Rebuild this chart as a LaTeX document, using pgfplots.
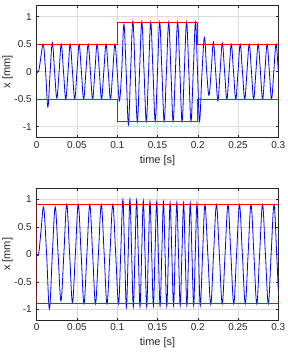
\documentclass[border=0pt]{standalone}
\usepackage{fontspec}
\setmainfont{Liberation Sans}
\usepackage{pgfplots}
\pgfplotsset{compat=1.18}
\definecolor{axgray}{RGB}{38,38,38}
\definecolor{gridgray}{RGB}{222,222,222}
\pgfplotsset{mystyle/.style={
  width=241.6pt, height=132pt, scale only axis,
  xmin=0, xmax=0.3, ymin=-1.2, ymax=1.2,
  xtick={0,0.05,0.1,0.15,0.2,0.25,0.3},
  ytick={-1,-0.5,0,0.5,1},
  grid=major, major grid style={gridgray, line width=0.5pt},
  axis line style={axgray, line width=0.5pt},
  tick style={axgray, line width=0.5pt}, tick align=inside, major tick length=2.5pt,
  ticklabel style={font=\fontsize{10}{12}\selectfont, text=axgray},
  label style={font=\fontsize{11}{13}\selectfont, text=axgray},
  xlabel={time [s]}, ylabel={x [mm]},
  ylabel shift=-5pt,
  yticklabel style={xshift=-1.5pt},
  /pgf/number format/assume math mode=true,
  scaled x ticks=false, scaled y ticks=false,
  xticklabel style={/pgf/number format/fixed},
  yticklabel style={/pgf/number format/fixed},
}}
\begin{document}
\begin{tikzpicture}
\useasboundingbox (0,0) rectangle (288pt,354pt);
\begin{axis}[mystyle, at={(36.7pt,216.3pt)}, anchor=south west]
\addplot[color=blue, line width=0.8pt, smooth, tension=0.6] coordinates {
(0,0) (0.0025,0.01) (0.0055,0.3) (0.0083,0.50)
(0.0111,0) (0.0139,-0.64) (0.0167,0) (0.0194,0.53)
(0.0222,0) (0.0250,-0.48) (0.0278,0) (0.0305,0.50)
(0.0333,0) (0.0361,-0.50) (0.0389,0) (0.0416,0.50)
(0.0444,0) (0.0472,-0.50) (0.0500,0) (0.0527,0.50)
(0.0555,0) (0.0583,-0.50) (0.0611,0) (0.0639,0.50)
(0.0667,0) (0.0694,-0.50) (0.0722,0) (0.0750,0.50)
(0.0778,0) (0.0805,-0.50) (0.0833,0) (0.0861,0.50)
(0.0889,0) (0.0916,-0.50) (0.0944,0) (0.0972,0.50)
(0.1000,0) (0.1027,-0.53) (0.1055,0) (0.1083,0.86)
(0.1111,0) (0.1139,-0.96) (0.1166,0) (0.1194,0.92)
(0.1222,0) (0.1250,-0.91) (0.1277,0) (0.1305,0.91)
(0.1333,0) (0.1361,-0.90) (0.1389,0) (0.1416,0.90)
(0.1444,0) (0.1472,-0.90) (0.1500,0) (0.1527,0.90)
(0.1555,0) (0.1583,-0.90) (0.1611,0) (0.1639,0.90)
(0.1667,0) (0.1694,-0.90) (0.1722,0) (0.1750,0.90)
(0.1778,0) (0.1805,-0.90) (0.1833,0) (0.1861,0.90)
(0.1889,0) (0.1916,-0.90) (0.1944,0) (0.1972,0.90)
(0.1997,0) (0.2022,-0.90) (0.2053,0) (0.2083,0.62)
(0.2111,0) (0.2139,-0.43) (0.2166,0) (0.2194,0.54)
(0.2222,0) (0.2250,-0.53) (0.2277,0) (0.2305,0.52)
(0.2333,0) (0.2361,-0.50) (0.2389,0) (0.2416,0.50)
(0.2444,0) (0.2472,-0.50) (0.2500,0) (0.2527,0.50)
(0.2555,0) (0.2583,-0.50) (0.2611,0) (0.2639,0.50)
(0.2667,0) (0.2694,-0.50) (0.2722,0) (0.2750,0.50)
(0.2778,0) (0.2805,-0.50) (0.2833,0) (0.2861,0.50)
(0.2889,0) (0.2916,-0.50) (0.2944,0) (0.2972,0.50)
(0.3000,0)
};
\addplot[draw=red, line width=1pt] coordinates {(0,0.5) (0.1,0.5) (0.1,0.9) (0.2,0.9) (0.2,0.5) (0.3,0.5)};
\addplot[draw=red, line width=1pt] coordinates {(0,-0.5) (0.1,-0.5) (0.1,-0.9) (0.2,-0.9) (0.2,-0.5) (0.3,-0.5)};
\end{axis}
\begin{axis}[mystyle, at={(36.7pt,33.7pt)}, anchor=south west]
\addplot[color=blue, line width=0.8pt, smooth, tension=0.6] coordinates {
(0,0) (0.0025,0.01) (0.0055,0.45) (0.0087,0.85)
(0.0123,0) (0.0158,-0.99) (0.0194,0) (0.0230,0.86)
(0.0266,0) (0.0301,-0.85) (0.0337,0) (0.0373,0.91)
(0.0409,0) (0.0444,-0.88) (0.0480,0) (0.0516,0.90)
(0.0552,0) (0.0587,-0.90) (0.0623,0) (0.0659,0.90)
(0.0695,0) (0.0730,-0.90) (0.0766,0) (0.0802,0.90)
(0.0838,0) (0.0873,-0.90) (0.0909,0) (0.0945,0.90)
(0.0981,0) (0.1016,-0.90) (0.1043,0) (0.1070,0.99)
(0.1092,0) (0.1114,-0.96) (0.1136,0) (0.1158,1.00)
(0.1179,0) (0.1200,-0.95) (0.1220,0) (0.1241,0.98)
(0.1262,0) (0.1283,-0.95) (0.1303,0) (0.1324,0.97)
(0.1345,0) (0.1366,-0.95) (0.1386,0) (0.1407,0.96)
(0.1428,0) (0.1449,-0.94) (0.1469,0) (0.1490,0.95)
(0.1511,0) (0.1532,-0.94) (0.1553,0) (0.1574,0.95)
(0.1594,0) (0.1615,-0.94) (0.1636,0) (0.1657,0.94)
(0.1678,0) (0.1699,-0.93) (0.1719,0) (0.1740,0.94)
(0.1761,0) (0.1782,-0.93) (0.1803,0) (0.1824,0.93)
(0.1844,0) (0.1865,-0.93) (0.1886,0) (0.1907,0.93)
(0.1928,0) (0.1949,-0.93) (0.1969,0) (0.1990,0.93)
(0.2010,0) (0.2031,-0.93) (0.2060,0) (0.2089,0.90)
(0.2125,0) (0.2161,-0.91) (0.2196,0) (0.2232,0.90)
(0.2268,0) (0.2304,-0.90) (0.2339,0) (0.2375,0.90)
(0.2411,0) (0.2447,-0.90) (0.2482,0) (0.2518,0.90)
(0.2554,0) (0.2590,-0.90) (0.2625,0) (0.2661,0.90)
(0.2697,0) (0.2733,-0.90) (0.2768,0) (0.2804,0.90)
(0.2840,0) (0.2876,-0.90) (0.2911,0) (0.2947,0.90)
(0.2980,0) (0.3000,-0.66)
};
\addplot[draw=red, line width=1pt] coordinates {(0,-0.9) (0,0.9) (0.3,0.9)};
\addplot[draw=red, line width=1pt] coordinates {(0,-0.9) (0.3,-0.9)};
\end{axis}
\end{tikzpicture}
\end{document}
